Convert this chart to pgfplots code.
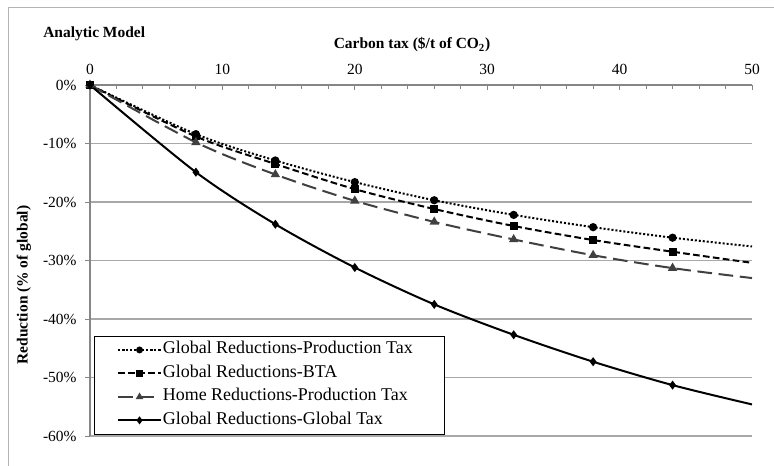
\documentclass[border=0pt]{standalone}
\usepackage{fontspec}
\setmainfont{Liberation Serif}
\makeatletter
\renewcommand\normalsize{\@setfontsize\normalsize{11.6pt}{14pt}}
\makeatother
\usepackage{graphicx}
\usepackage{pgfplots}
\pgfplotsset{compat=1.18}
\usepackage{pgfplotstable}
\definecolor{gridc}{RGB}{168,168,168}
\definecolor{axc}{RGB}{134,134,134}
\definecolor{homec}{RGB}{64,64,64}
\definecolor{framec}{RGB}{180,180,180}
\newcommand\chartfont{\fontsize{11.6pt}{14pt}\selectfont}
\newcommand\legtext[1]{\scalebox{1.16}{#1}}

\pgfplotstableread{
x prod bta home glob
0 0 0 0 0
8 -8.4 -8.8 -9.8 -14.9
14 -12.9 -13.5 -15.3 -23.8
20 -16.6 -17.8 -19.8 -31.2
26 -19.7 -21.2 -23.4 -37.5
32 -22.2 -24.1 -26.4 -42.7
38 -24.3 -26.5 -29.1 -47.3
44 -26.1 -28.5 -31.3 -51.3
50 -27.6 -30.4 -33.0 -54.6
}\data

\begin{document}
\normalsize
\begin{tikzpicture}[font=\chartfont]
\useasboundingbox (0,0) rectangle (580.5pt,348.75pt);
\draw[framec, line width=0.75pt] (6pt,-5pt) -- (6pt,342.75pt) -- (590pt,342.75pt);
\node[anchor=west,font=\chartfont\bfseries,inner sep=0pt] at (32.25pt,323.25pt) {Analytic Model};
\node[font=\chartfont\bfseries,inner sep=0pt] at (309pt,315pt) {Carbon tax (\$/t of CO\textsubscript{2})};
\node[font=\chartfont\bfseries, rotate=90,inner sep=0pt] at (18pt,135pt) {Reduction (\% of global)};
\begin{axis}[
  at={(67.5pt,21.75pt)}, anchor=south west,
  scale only axis, width=496.5pt, height=263.25pt,
  xmin=0, xmax=50, ymin=-60, ymax=0,
  axis x line*=top, axis y line*=left,
  axis line style={axc, line width=1.1pt},
  xtick={0,10,...,50}, minor x tick num=4,
  ytick={-60,-50,...,0},
  xtick align=inside, ytick align=outside,
  major tick length=3.5pt, minor tick length=3pt,
  tick style={axc, line width=0.75pt},
  ymajorgrids, major grid style={gridc, line width=0.9pt},
  yticklabel={\pgfmathprintnumber{\tick}\%},
  /pgf/number format/assume math mode=true,
  tick label style={font=\chartfont},
  xticklabel style={yshift=3.5pt},
  yticklabel style={xshift=-2.5pt},
  clip=false,
  legend cell align=left,
  legend style={at={(axis description cs:0.0065,0.2857)}, anchor=north west,
    draw=black, line width=0.75pt, fill=white, font=\chartfont,
    row sep=0pt, column sep=0pt, inner xsep=17pt, inner ysep=1.5pt,
    nodes={inner xsep=1pt, inner ysep=3.3pt, text height=8.5pt, text depth=2.5pt}},
  legend image code/.code={\draw[#1,mark indices={2},mark size=1.8pt] plot coordinates {(0cm,0cm) (0.555cm,0cm) (1.11cm,0cm)};},
]
\addplot[black, line width=1.5pt, dash pattern=on 1.5pt off 1.5pt, smooth,
  mark=*, mark size=2.3pt, mark indices={1,2,3,4,5,6,7,8},
  mark options={solid, fill=black}] table[x=x,y=prod]{\data};
\addlegendentry{\legtext{Global Reductions-Production Tax}\hspace*{6pt}}
\addplot[black, line width=1.5pt, dash pattern=on 5pt off 2.5pt, smooth,
  mark=square*, mark size=2.2pt, mark indices={1,2,3,4,5,6,7,8},
  mark options={solid, fill=black}] table[x=x,y=bta]{\data};
\addlegendentry{\legtext{Global Reductions-BTA}}
\addplot[homec, line width=1.5pt, dash pattern=on 11pt off 5pt, smooth,
  mark=triangle*, mark size=2.6pt, mark indices={1,2,3,4,5,6,7,8},
  mark options={solid, fill=homec}] table[x=x,y=home]{\data};
\addlegendentry{\legtext{Home Reductions-Production Tax}}
\addplot[black, line width=1.5pt, smooth,
  mark=diamond*, mark size=2.2pt, mark indices={1,2,3,4,5,6,7,8},
  mark options={solid, fill=black}] table[x=x,y=glob]{\data};
\addlegendentry{\legtext{Global Reductions-Global Tax}}
\end{axis}
\end{tikzpicture}
\end{document}
